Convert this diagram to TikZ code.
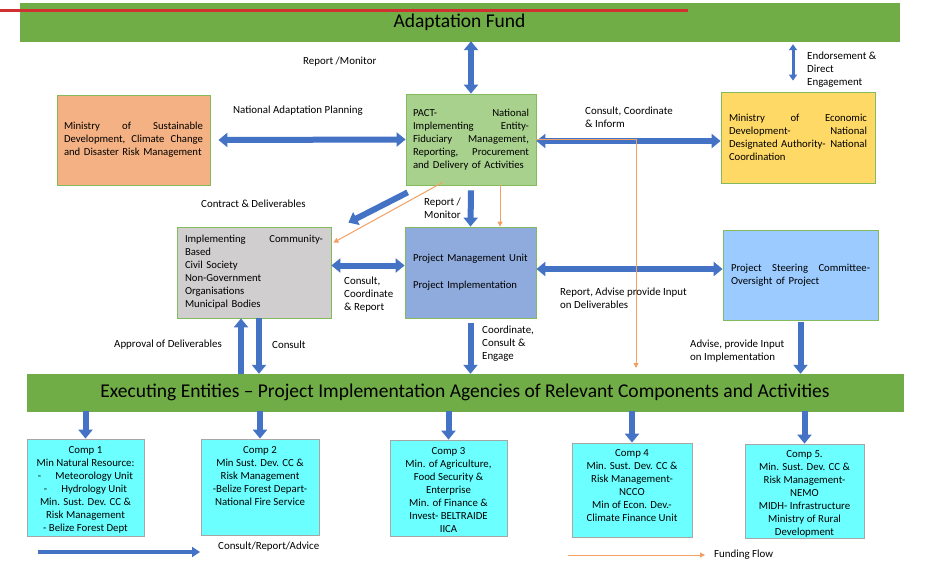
\documentclass[tikz,border=0pt]{standalone}
\usepackage{fontspec}
\setmainfont{Carlito}
\usetikzlibrary{arrows.meta,calc}

\definecolor{afgreen}{RGB}{112,173,71}
\definecolor{boxline}{RGB}{130,186,92}
\definecolor{msdorange}{RGB}{244,177,131}
\definecolor{pactgreen}{RGB}{169,209,142}
\definecolor{meconyellow}{RGB}{255,217,102}
\definecolor{implgrey}{RGB}{208,206,206}
\definecolor{pmublue}{RGB}{143,170,220}
\definecolor{pscblue}{RGB}{155,203,255}
\definecolor{compcyan}{RGB}{108,255,255}
\definecolor{compline}{RGB}{166,166,166}
\definecolor{arrowblue}{RGB}{68,114,196}
\definecolor{fundorange}{RGB}{243,160,100}
\definecolor{topred}{RGB}{208,48,48}

\newcommand{\compbody}[1]{\parbox[c][82pt][t]{116pt}{\centering #1}}

\begin{document}
\begin{tikzpicture}[x=1pt,y=-1pt,
    banner/.style={fill=afgreen, draw=afgreen, inner sep=0pt, font=\fontsize{19.5}{22}\selectfont},
    box/.style={draw=boxline, line width=0.8pt, inner sep=0pt, align=left, font=\fontsize{10.7}{13}\selectfont},
    compbox/.style={draw=compline, fill=compcyan, line width=0.8pt, inner sep=0pt, font=\fontsize{10.8}{13}\selectfont},
    lab/.style={inner sep=0pt, anchor=west, align=left, font=\fontsize{10.9}{13}\selectfont},
    bluearrow/.style={draw=arrowblue, line width=6pt, -{Triangle[width=14pt,length=9pt]}},
    bluedouble/.style={bluearrow, {Triangle[width=14pt,length=9pt]}-{Triangle[width=14pt,length=9pt]}},
    thindouble/.style={draw=arrowblue, line width=3pt, {Triangle[width=8pt,length=6pt]}-{Triangle[width=8pt,length=6pt]}},
    legendarrow/.style={draw=arrowblue, line width=4pt, -{Triangle[width=10pt,length=8pt]}},
    fund/.style={draw=fundorange, line width=1pt, -{Triangle[width=5pt,length=5pt]}}]
        \useasboundingbox (0,0) rectangle (939,562);
        \fill[white] (0,0) rectangle (939,562);

        \node[banner, minimum width=879pt, minimum height=38pt] (af) at (459.5,22) {Adaptation Fund};
        \draw[topred, line width=3pt] (0,10) -- (688,10);

        \node[box, fill=msdorange, minimum width=153pt, minimum height=90pt, text width=139pt] (msd) at (133.5,140)
           {Ministry\hfill of\hfill Sustainable\\Development,\hfill Climate\hfill Change\\and Disaster Risk Management};
        \node[box, fill=pactgreen, minimum width=130pt, minimum height=91pt, text width=116pt] (pact) at (471,139.5)
           {PACT-\hfill National\\Implementing\hfill Entity-\\Fiduciary\hfill Management,\\Reporting,\hfill Procurement\\and Delivery of Activities};
        \node[box, fill=meconyellow, minimum width=154pt, minimum height=91pt, text width=138pt] (mecon) at (798,137.5)
           {Ministry\hfill of\hfill Economic\\Development-\hfill National\\Designated Authority-\hfill National\\Coordination};
        \node[box, fill=implgrey, minimum width=154pt, minimum height=91pt, text width=138pt] (impl) at (254,272.5)
           {Implementing\hfill Community-\\Based\\Civil Society\\Non-Government\\Organisations\\Municipal Bodies};
        \node[box, fill=pmublue, minimum width=131pt, minimum height=91pt, text width=115pt] (pmu) at (470.5,272.5)
           {Project Management Unit\\[14pt]Project Implementation};
        \node[box, fill=pscblue, minimum width=155pt, minimum height=90pt, text width=139pt] (psc) at (800.5,275)
           {Project\hfill Steering\hfill Committee-\\Oversight of Project};

        \node[banner, minimum width=876pt, minimum height=37pt] (exec) at (465,392.5)
           {Executing Entities -- Project Implementation Agencies of Relevant Components and Activities};

        \node[compbox, minimum width=117pt, minimum height=97pt] (comp1) at (85.5,487.5)
           {\compbody{Comp 1\\Min Natural Resource:\\-\hspace{1.3em}Meteorology Unit\\-\hspace{1.3em}Hydrology Unit\\Min. Sust. Dev. CC \&\\Risk Management\\- Belize Forest Dept}};
        \node[compbox, minimum width=118pt, minimum height=96pt] (comp2) at (260,487)
           {\compbody{Comp 2\\Min Sust. Dev. CC \&\\Risk Management\\-Belize Forest Depart-\\National Fire Service}};
        \node[compbox, minimum width=117pt, minimum height=96pt] (comp3) at (448.5,488)
           {\compbody{Comp 3\\Min. of Agriculture,\\Food Security \&\\Enterprise\\Min. of Finance \&\\Invest- BELTRAIDE\\IICA}};
        \node[compbox, minimum width=120pt, minimum height=94pt] (comp4) at (632,490)
           {\compbody{Comp 4\\Min. Sust. Dev. CC \&\\Risk Management-\\NCCO\\Min of Econ. Dev.-\\Climate Finance Unit}};
        \node[compbox, minimum width=119pt, minimum height=94pt] (comp5) at (804.5,491)
           {\compbody{Comp 5.\\Min. Sust. Dev. CC \&\\Risk Management-\\NEMO\\MIDH- Infrastructure\\Ministry of Rural\\Development}};

        \draw[bluedouble] (pact.north) -- (pact.north |- af.south);
        \draw[thindouble] ($(mecon.north)+(-5,-11)$) -- ($(mecon.north |- af.south)+(-5,3)$);
        \draw[bluedouble] ([xshift=8pt]msd.east) -- (pact.west);
        \draw[bluedouble] ([yshift=-1.5pt]pact.east) -- ([yshift=-1.5pt]pact.east -| mecon.west);
        \draw[bluearrow] ($(pact.south west)+(2,7)$) -- ($(impl.north east)+(17,-4)$);
        \draw[bluearrow] ([yshift=-5pt]pact.south) -- (pmu.north);
        \draw[bluedouble] ([yshift=7pt]impl.east) -- ([yshift=7pt]impl.east -| pmu.west);
        \draw[bluedouble] ([yshift=3.5pt]pmu.east) -- ([yshift=3.5pt]pmu.east -| psc.west);
        \draw[bluearrow] ([yshift=-5pt]pmu.south) -- (pmu.south |- exec.north);
        \draw[bluearrow] ([yshift=-2pt]psc.south) -- (psc.south |- exec.north);
        \draw[bluearrow] ($(impl.south |- exec.north)+(-13,0)$) -- ($(impl.south)+(-13,0)$);
        \draw[bluearrow] ($(impl.south)+(5,0)$) -- ($(impl.south |- exec.north)+(5,0)$);
        \draw[bluearrow] (exec.south -| comp1.north) -- (comp1.north);
        \draw[bluearrow] (exec.south -| comp2.north) -- (comp2.north);
        \draw[bluearrow] (exec.south -| comp3.north) -- (comp3.north);
        \draw[bluearrow] (exec.south -| comp4.north) -- (comp4.north);
        \draw[bluearrow] (exec.south -| comp5.north) -- (comp5.north);

        \coordinate (fundend) at (636,368);
        \draw[fund] (pact.east) -| (fundend);
        \draw[fund] ([xshift=29pt]pact.south) -- ([xshift=29pt]pact.south |- pmu.north);
        \draw[fund] ($(pact.south west)+(37,-3)$) -- ($(impl.north east)+(2,16)$);

        \node[lab] (lreport) at (303,62) {Report /Monitor};
        \node[lab] (lendorse) at (807,70) {Endorsement \&\\Direct\\Engagement};
        \node[lab] (lnap) at (233,111) {National Adaptation Planning};
        \node[lab] (lconsultinform) at (585,117.5) {Consult, Coordinate\\\& Inform};
        \node[lab] (lcontract) at (201,204) {Contract \& Deliverables};
        \node[lab] (lreportmon) at (424,208.5) {Report /\\Monitor};
        \node[lab] (lconsultreport) at (344,295) {Consult,\\Coordinate\\\& Report};
        \node[lab] (ladvisedeliv) at (560,298) {Report, Advise provide Input\\on Deliverables};
        \node[lab] (lcoordinate) at (482,344) {Coordinate,\\Consult \&\\Engage};
        \node[lab] (ladviseimpl) at (690,351) {Advise, provide Input\\on Implementation};
        \node[lab] (lapproval) at (114,345) {Approval of Deliverables};
        \node[lab] (lconsult) at (272,345) {Consult};

        \coordinate (legblueA) at (38,552);
        \coordinate (legblueB) at (200,552);
        \draw[legendarrow] (legblueA) -- (legblueB);
        \node[lab] (llegblue) at (218,547) {Consult/Report/Advice};
        \coordinate (legfundA) at (568,555);
        \coordinate (legfundB) at (705,555);
        \draw[fund] (legfundA) -- (legfundB);
        \node[lab] (llegfund) at (714,555) {Funding Flow};
      \end{tikzpicture}
\end{document}
